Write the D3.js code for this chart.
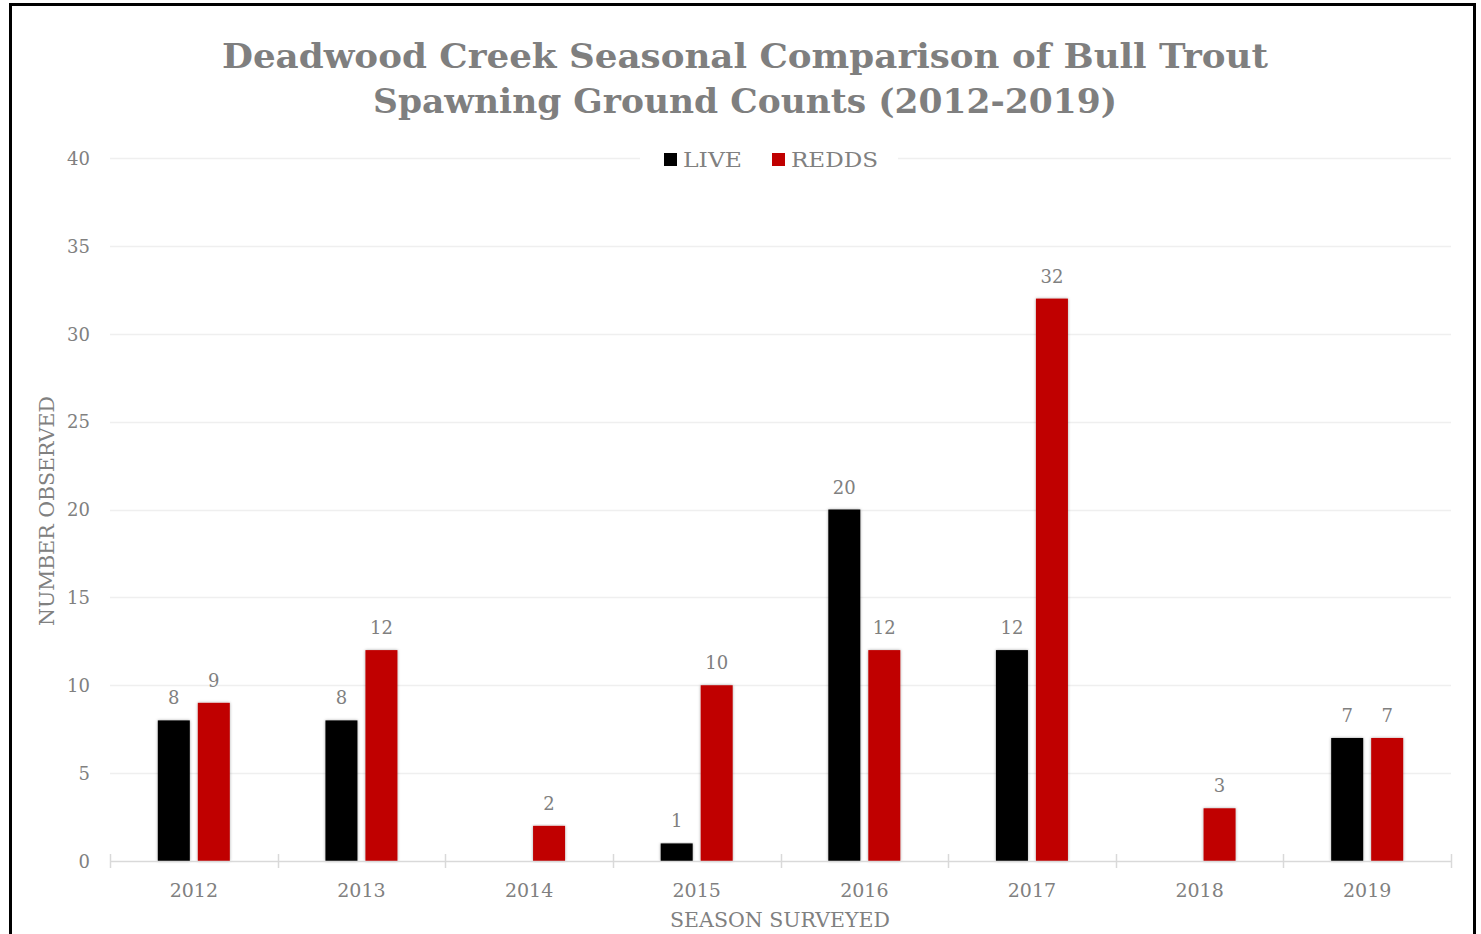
<!DOCTYPE html>
<html><head><meta charset="utf-8">
<script src="https://cdn.jsdelivr.net/npm/d3@7"></script>
<style>
html,body{margin:0;padding:0;background:#fff;overflow:hidden;}
</style></head>
<body>
<svg id="chart" width="1481" height="934"></svg>
<script>
const years = ["2012","2013","2014","2015","2016","2017","2018","2019"];
const live  = [8, 8, null, 1, 20, 12, null, 7];
const redds = [9, 12, 2, 10, 12, 32, 3, 7];
const seriesNames = ["LIVE","REDDS"];
const seriesColors = ["#000000","#c00000"];
const yTicks = [0,5,10,15,20,25,30,35,40];

const svg = d3.select("#chart");
const serif = "'DejaVu Serif', 'Liberation Serif', serif";
const grey = "#808080";

// shadow filter
const defs = svg.append("defs");
const f = defs.append("filter").attr("id","sh").attr("x","-20%").attr("y","-5%").attr("width","140%").attr("height","110%");
f.append("feDropShadow").attr("dx",0).attr("dy",0).attr("stdDeviation",1.6).attr("flood-color","#000").attr("flood-opacity",0.35);

// border
svg.append("rect").attr("x",10.5).attr("y",4.5).attr("width",1464).attr("height",960)
  .attr("fill","none").attr("stroke","#000").attr("stroke-width",3);

const x0 = 110, x1 = 1451, yTop = 158, yBot = 861;
const x = d3.scaleBand().domain(years).range([x0,x1]);
const y = d3.scaleLinear().domain([0,40]).range([yBot,yTop]);
const barW = 32, gap = 8;
const xs = d3.scaleBand().domain(seriesNames).range([0, barW*2+gap]).paddingInner(gap/(barW+gap)).paddingOuter(0);

// gridlines
svg.append("g").selectAll("line").data(yTicks.filter(d=>d>0)).join("line")
  .attr("x1",x0).attr("x2",x1).attr("y1",d=>Math.round(y(d))+0.5).attr("y2",d=>Math.round(y(d))+0.5)
  .attr("stroke","#efefef").attr("stroke-width",1.5);

// y axis labels
const yAxis = d3.axisLeft(y).tickValues(yTicks).tickSize(0).tickPadding(0);
const gy = svg.append("g").attr("transform",`translate(${90},0)`).call(yAxis);
gy.select(".domain").remove();
gy.selectAll("text").attr("font-family",serif).attr("font-size",18).attr("fill",grey).attr("dy","0.35em");

// bars
const groups = svg.append("g").selectAll("g").data(years).join("g")
  .attr("transform",d=>`translate(${x(d)+x.bandwidth()/2-(barW*2+gap)/2},0)`);
const seriesData = [live, redds];
groups.each(function(yr,i){
  const g = d3.select(this);
  seriesNames.forEach((s,j)=>{
    const v = seriesData[j][i];
    if(v==null) return;
    g.append("rect").attr("x",xs(s)).attr("width",xs.bandwidth())
      .attr("y",y(v)).attr("height",y(0)-y(v))
      .attr("fill",seriesColors[j]).attr("filter","url(#sh)");
    g.append("text").attr("x",xs(s)+xs.bandwidth()/2).attr("y",y(v)-16)
      .attr("text-anchor","middle").attr("font-family",serif).attr("font-size",18).attr("fill",grey).text(v);
  });
});

// x axis
const xAxis = d3.axisBottom(x).tickSize(0).tickPadding(0);
const gx = svg.append("g").attr("transform",`translate(0,${yBot})`).call(xAxis);
gx.select(".domain").attr("stroke","#d9d9d9").attr("stroke-width",1.5).attr("d",`M${x0},0.5H${x1}`);
gx.selectAll("text").attr("font-family",serif).attr("font-size",19).attr("fill",grey).attr("dy",0).attr("y",36);
const bounds = years.map(d=>x(d)).concat([x1]);
svg.append("g").selectAll("line").data(bounds).join("line")
  .attr("x1",d=>Math.round(d)+0.5).attr("x2",d=>Math.round(d)+0.5).attr("y1",yBot-7).attr("y2",yBot+7)
  .attr("stroke","#d9d9d9").attr("stroke-width",1.5);

// axis titles
svg.append("text").attr("x",780).attr("y",927).attr("text-anchor","middle")
  .attr("font-family",serif).attr("font-size",20.5).attr("fill",grey).text("SEASON SURVEYED");
svg.append("text").attr("transform","translate(54,511) rotate(-90)").attr("text-anchor","middle")
  .attr("font-family",serif).attr("font-size",20.5).attr("fill",grey).text("NUMBER OBSERVED");

// title
const title = ["Deadwood Creek Seasonal Comparison of Bull Trout","Spawning Ground Counts (2012-2019)"];
const tw = [1046, 744];
svg.append("g").selectAll("text").data(title).join("text")
  .attr("x",745).attr("y",(d,i)=>68+i*45).attr("text-anchor","middle")
  .attr("font-family",serif).attr("font-weight","bold").attr("font-size",34).attr("fill","#7f7f7f")
  .attr("textLength",(d,i)=>tw[i]).attr("lengthAdjust","spacingAndGlyphs").text(d=>d);

// legend
const lg = svg.append("g");
lg.append("rect").attr("x",640).attr("y",145).attr("width",258).attr("height",28).attr("fill","#fff");
const lx = [664, 772];
const tl = [59, 87];
seriesNames.forEach((s,j)=>{
  lg.append("rect").attr("x",lx[j]).attr("y",153).attr("width",13).attr("height",13).attr("fill",seriesColors[j]);
  lg.append("text").attr("x",lx[j]+19).attr("y",167).attr("font-family",serif).attr("font-size",21).attr("fill",grey)
    .attr("textLength",tl[j]).attr("lengthAdjust","spacingAndGlyphs").text(s);
});
</script>
</body></html>
